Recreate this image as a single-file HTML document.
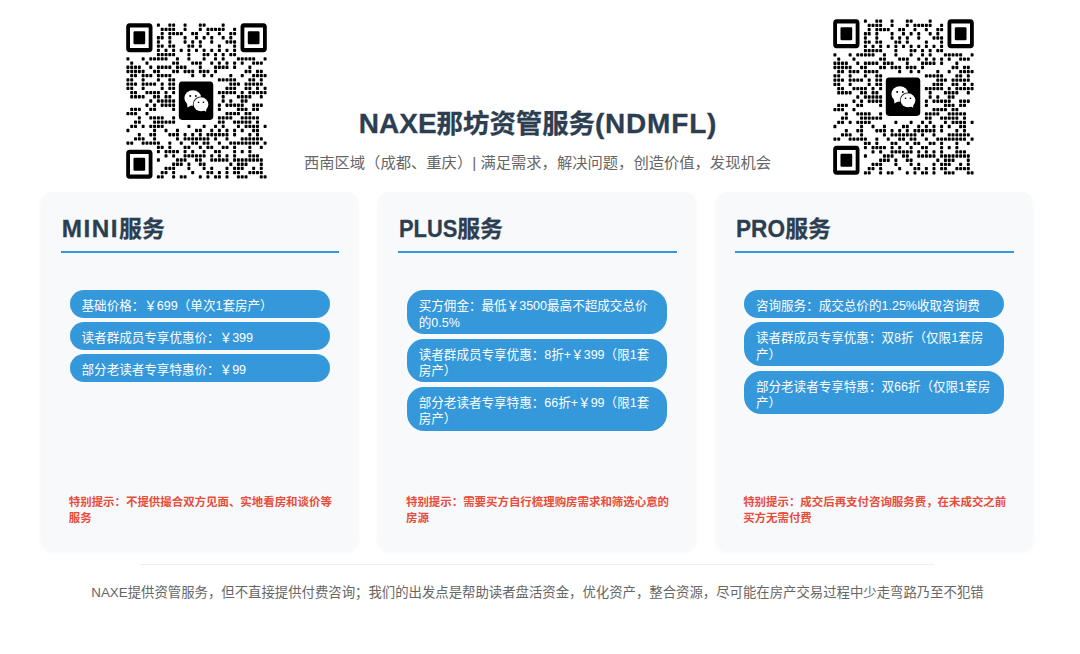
<!DOCTYPE html>
<html lang="zh-CN">
<head>
<meta charset="utf-8">
<title>NAXE那坊资管服务(NDMFL)</title>
<style>
*{box-sizing:border-box;margin:0;padding:0}
html,body{width:1080px;height:654px;background:#fff;overflow:hidden}
body{position:relative;font-family:"Liberation Sans","Noto Sans CJK SC",sans-serif;color:#2c3e50}
.qr{position:absolute;width:141px;height:156px;overflow:visible}
.qr.l{left:125.9px;top:22.9px}
.qr.r{left:832.9px;top:18.8px}
h1{position:absolute;left:0;width:1076px;top:103.5px;text-align:center;white-space:nowrap;font-size:26.4px;line-height:40px;font-weight:700;color:#2c3e50}
h1,.card h2{-webkit-text-stroke:.3px #2c3e50}
h1 .e{font-size:28px}
h1 .e2{font-size:28px;letter-spacing:.8px}
.sub{position:absolute;left:0;width:1075px;top:151.5px;text-align:center;white-space:nowrap;font-size:15.3px;line-height:22px;color:#666}
.card{position:absolute;top:192px;width:317.2px;height:357.5px;background:#f8f9fa;border-radius:11.5px;box-shadow:0 2px 5px rgba(0,0,0,.04)}
.c1{left:41.2px}.c2{left:378.4px}.c3{left:715.6px}
.card h2{position:absolute;left:20.6px;top:18.5px;white-space:nowrap;font-size:22.9px;line-height:36px;font-weight:700;color:#2c3e50}
.card h2 .e{font-size:24.3px;letter-spacing:1.5px}
.card h2 .sx{display:inline-block;transform-origin:0 50%;letter-spacing:0}
.card .ln{position:absolute;left:19.8px;width:278.5px;top:59px;height:2px;background:#3498db}
.pills{position:absolute;left:28.8px;width:259.6px;top:98.25px}
.pill{background:#3498db;color:#fff;white-space:nowrap;font-size:12.55px;line-height:16.3px;padding:8.1px 11.6px 3.1px 11.6px;border-radius:17px;margin-bottom:4.55px}
.warn{position:absolute;left:27.6px;top:303.2px;white-space:nowrap;font-size:11.45px;line-height:15.5px;font-weight:700;color:#e74c3c}
.hr{position:absolute;left:140px;width:794px;top:564px;height:1px;background:#eee}
.foot{position:absolute;left:0;width:1075px;top:583px;text-align:center;white-space:nowrap;font-size:13.38px;line-height:20px;color:#666}
</style>
</head>
<body>
<!--QR1--><svg class="qr l" viewBox="0 0 37 37" preserveAspectRatio="none" aria-label="微信二维码"><g><path d="M8.29 .29h.42v.42h-.42zM11.29 .29h.42v.42h-.42zM12.29 .29h.42v.42h-.42zM15.29 .29h.42v.42h-.42zM19.29 .29h.42v.42h-.42zM20.29 .29h.42v.42h-.42zM25.29 .29h.42v.42h-.42zM9.29 1.29h.42v.42h-.42zM10.29 1.29h.42v.42h-.42zM11.29 1.29h.42v.42h-.42zM12.29 1.29h.42v.42h-.42zM15.29 1.29h.42v.42h-.42zM19.29 1.29h.42v.42h-.42zM21.29 1.29h.42v.42h-.42zM22.29 1.29h.42v.42h-.42zM23.29 1.29h.42v.42h-.42zM24.29 1.29h.42v.42h-.42zM25.29 1.29h.42v.42h-.42zM28.29 1.29h.42v.42h-.42zM9.29 2.29h.42v.42h-.42zM11.29 2.29h.42v.42h-.42zM12.29 2.29h.42v.42h-.42zM13.29 2.29h.42v.42h-.42zM14.29 2.29h.42v.42h-.42zM17.29 2.29h.42v.42h-.42zM18.29 2.29h.42v.42h-.42zM21.29 2.29h.42v.42h-.42zM24.29 2.29h.42v.42h-.42zM27.29 2.29h.42v.42h-.42zM28.29 2.29h.42v.42h-.42zM8.29 3.29h.42v.42h-.42zM9.29 3.29h.42v.42h-.42zM11.29 3.29h.42v.42h-.42zM15.29 3.29h.42v.42h-.42zM18.29 3.29h.42v.42h-.42zM20.29 3.29h.42v.42h-.42zM22.29 3.29h.42v.42h-.42zM25.29 3.29h.42v.42h-.42zM27.29 3.29h.42v.42h-.42zM8.29 4.29h.42v.42h-.42zM11.29 4.29h.42v.42h-.42zM15.29 4.29h.42v.42h-.42zM17.29 4.29h.42v.42h-.42zM19.29 4.29h.42v.42h-.42zM22.29 4.29h.42v.42h-.42zM26.29 4.29h.42v.42h-.42zM27.29 4.29h.42v.42h-.42zM28.29 4.29h.42v.42h-.42zM8.29 5.29h.42v.42h-.42zM9.29 5.29h.42v.42h-.42zM11.29 5.29h.42v.42h-.42zM12.29 5.29h.42v.42h-.42zM16.29 5.29h.42v.42h-.42zM17.29 5.29h.42v.42h-.42zM19.29 5.29h.42v.42h-.42zM24.29 5.29h.42v.42h-.42zM28.29 5.29h.42v.42h-.42zM8.29 6.29h.42v.42h-.42zM10.29 6.29h.42v.42h-.42zM12.29 6.29h.42v.42h-.42zM14.29 6.29h.42v.42h-.42zM16.29 6.29h.42v.42h-.42zM18.29 6.29h.42v.42h-.42zM20.29 6.29h.42v.42h-.42zM22.29 6.29h.42v.42h-.42zM24.29 6.29h.42v.42h-.42zM26.29 6.29h.42v.42h-.42zM28.29 6.29h.42v.42h-.42zM8.29 7.29h.42v.42h-.42zM9.29 7.29h.42v.42h-.42zM10.29 7.29h.42v.42h-.42zM11.29 7.29h.42v.42h-.42zM12.29 7.29h.42v.42h-.42zM16.29 7.29h.42v.42h-.42zM20.29 7.29h.42v.42h-.42zM21.29 7.29h.42v.42h-.42zM23.29 7.29h.42v.42h-.42zM25.29 7.29h.42v.42h-.42zM27.29 7.29h.42v.42h-.42zM28.29 7.29h.42v.42h-.42zM.29 8.29h.42v.42h-.42zM4.29 8.29h.42v.42h-.42zM6.29 8.29h.42v.42h-.42zM7.29 8.29h.42v.42h-.42zM8.29 8.29h.42v.42h-.42zM9.29 8.29h.42v.42h-.42zM10.29 8.29h.42v.42h-.42zM13.29 8.29h.42v.42h-.42zM16.29 8.29h.42v.42h-.42zM20.29 8.29h.42v.42h-.42zM23.29 8.29h.42v.42h-.42zM25.29 8.29h.42v.42h-.42zM29.29 8.29h.42v.42h-.42zM30.29 8.29h.42v.42h-.42zM31.29 8.29h.42v.42h-.42zM32.29 8.29h.42v.42h-.42zM33.29 8.29h.42v.42h-.42zM36.29 8.29h.42v.42h-.42zM1.29 9.29h.42v.42h-.42zM5.29 9.29h.42v.42h-.42zM12.29 9.29h.42v.42h-.42zM13.29 9.29h.42v.42h-.42zM17.29 9.29h.42v.42h-.42zM18.29 9.29h.42v.42h-.42zM19.29 9.29h.42v.42h-.42zM22.29 9.29h.42v.42h-.42zM24.29 9.29h.42v.42h-.42zM26.29 9.29h.42v.42h-.42zM28.29 9.29h.42v.42h-.42zM30.29 9.29h.42v.42h-.42zM33.29 9.29h.42v.42h-.42zM34.29 9.29h.42v.42h-.42zM35.29 9.29h.42v.42h-.42zM.29 10.29h.42v.42h-.42zM1.29 10.29h.42v.42h-.42zM2.29 10.29h.42v.42h-.42zM3.29 10.29h.42v.42h-.42zM6.29 10.29h.42v.42h-.42zM8.29 10.29h.42v.42h-.42zM9.29 10.29h.42v.42h-.42zM10.29 10.29h.42v.42h-.42zM11.29 10.29h.42v.42h-.42zM13.29 10.29h.42v.42h-.42zM14.29 10.29h.42v.42h-.42zM15.29 10.29h.42v.42h-.42zM19.29 10.29h.42v.42h-.42zM23.29 10.29h.42v.42h-.42zM24.29 10.29h.42v.42h-.42zM25.29 10.29h.42v.42h-.42zM26.29 10.29h.42v.42h-.42zM28.29 10.29h.42v.42h-.42zM32.29 10.29h.42v.42h-.42zM.29 11.29h.42v.42h-.42zM1.29 11.29h.42v.42h-.42zM2.29 11.29h.42v.42h-.42zM3.29 11.29h.42v.42h-.42zM4.29 11.29h.42v.42h-.42zM7.29 11.29h.42v.42h-.42zM8.29 11.29h.42v.42h-.42zM12.29 11.29h.42v.42h-.42zM13.29 11.29h.42v.42h-.42zM15.29 11.29h.42v.42h-.42zM16.29 11.29h.42v.42h-.42zM17.29 11.29h.42v.42h-.42zM19.29 11.29h.42v.42h-.42zM20.29 11.29h.42v.42h-.42zM21.29 11.29h.42v.42h-.42zM23.29 11.29h.42v.42h-.42zM31.29 11.29h.42v.42h-.42zM32.29 11.29h.42v.42h-.42zM34.29 11.29h.42v.42h-.42zM35.29 11.29h.42v.42h-.42zM1.29 12.29h.42v.42h-.42zM2.29 12.29h.42v.42h-.42zM4.29 12.29h.42v.42h-.42zM5.29 12.29h.42v.42h-.42zM6.29 12.29h.42v.42h-.42zM8.29 12.29h.42v.42h-.42zM9.29 12.29h.42v.42h-.42zM10.29 12.29h.42v.42h-.42zM11.29 12.29h.42v.42h-.42zM17.29 12.29h.42v.42h-.42zM20.29 12.29h.42v.42h-.42zM22.29 12.29h.42v.42h-.42zM27.29 12.29h.42v.42h-.42zM30.29 12.29h.42v.42h-.42zM33.29 12.29h.42v.42h-.42zM34.29 12.29h.42v.42h-.42zM35.29 12.29h.42v.42h-.42zM36.29 12.29h.42v.42h-.42zM.29 13.29h.42v.42h-.42zM1.29 13.29h.42v.42h-.42zM4.29 13.29h.42v.42h-.42zM8.29 13.29h.42v.42h-.42zM11.29 13.29h.42v.42h-.42zM12.29 13.29h.42v.42h-.42zM24.29 13.29h.42v.42h-.42zM25.29 13.29h.42v.42h-.42zM26.29 13.29h.42v.42h-.42zM27.29 13.29h.42v.42h-.42zM28.29 13.29h.42v.42h-.42zM32.29 13.29h.42v.42h-.42zM33.29 13.29h.42v.42h-.42zM35.29 13.29h.42v.42h-.42zM.29 14.29h.42v.42h-.42zM1.29 14.29h.42v.42h-.42zM2.29 14.29h.42v.42h-.42zM4.29 14.29h.42v.42h-.42zM5.29 14.29h.42v.42h-.42zM6.29 14.29h.42v.42h-.42zM7.29 14.29h.42v.42h-.42zM9.29 14.29h.42v.42h-.42zM11.29 14.29h.42v.42h-.42zM12.29 14.29h.42v.42h-.42zM27.29 14.29h.42v.42h-.42zM28.29 14.29h.42v.42h-.42zM29.29 14.29h.42v.42h-.42zM31.29 14.29h.42v.42h-.42zM32.29 14.29h.42v.42h-.42zM33.29 14.29h.42v.42h-.42zM34.29 14.29h.42v.42h-.42zM35.29 14.29h.42v.42h-.42zM.29 15.29h.42v.42h-.42zM1.29 15.29h.42v.42h-.42zM4.29 15.29h.42v.42h-.42zM9.29 15.29h.42v.42h-.42zM11.29 15.29h.42v.42h-.42zM12.29 15.29h.42v.42h-.42zM26.29 15.29h.42v.42h-.42zM27.29 15.29h.42v.42h-.42zM28.29 15.29h.42v.42h-.42zM31.29 15.29h.42v.42h-.42zM32.29 15.29h.42v.42h-.42zM34.29 15.29h.42v.42h-.42zM36.29 15.29h.42v.42h-.42zM1.29 16.29h.42v.42h-.42zM2.29 16.29h.42v.42h-.42zM5.29 16.29h.42v.42h-.42zM6.29 16.29h.42v.42h-.42zM7.29 16.29h.42v.42h-.42zM8.29 16.29h.42v.42h-.42zM10.29 16.29h.42v.42h-.42zM12.29 16.29h.42v.42h-.42zM24.29 16.29h.42v.42h-.42zM25.29 16.29h.42v.42h-.42zM26.29 16.29h.42v.42h-.42zM27.29 16.29h.42v.42h-.42zM28.29 16.29h.42v.42h-.42zM30.29 16.29h.42v.42h-.42zM32.29 16.29h.42v.42h-.42zM33.29 16.29h.42v.42h-.42zM34.29 16.29h.42v.42h-.42zM35.29 16.29h.42v.42h-.42zM36.29 16.29h.42v.42h-.42zM1.29 17.29h.42v.42h-.42zM2.29 17.29h.42v.42h-.42zM3.29 17.29h.42v.42h-.42zM4.29 17.29h.42v.42h-.42zM7.29 17.29h.42v.42h-.42zM8.29 17.29h.42v.42h-.42zM10.29 17.29h.42v.42h-.42zM11.29 17.29h.42v.42h-.42zM25.29 17.29h.42v.42h-.42zM29.29 17.29h.42v.42h-.42zM30.29 17.29h.42v.42h-.42zM31.29 17.29h.42v.42h-.42zM32.29 17.29h.42v.42h-.42zM35.29 17.29h.42v.42h-.42zM6.29 18.29h.42v.42h-.42zM8.29 18.29h.42v.42h-.42zM9.29 18.29h.42v.42h-.42zM10.29 18.29h.42v.42h-.42zM11.29 18.29h.42v.42h-.42zM12.29 18.29h.42v.42h-.42zM25.29 18.29h.42v.42h-.42zM27.29 18.29h.42v.42h-.42zM30.29 18.29h.42v.42h-.42zM31.29 18.29h.42v.42h-.42zM5.29 19.29h.42v.42h-.42zM7.29 19.29h.42v.42h-.42zM9.29 19.29h.42v.42h-.42zM10.29 19.29h.42v.42h-.42zM11.29 19.29h.42v.42h-.42zM12.29 19.29h.42v.42h-.42zM24.29 19.29h.42v.42h-.42zM26.29 19.29h.42v.42h-.42zM27.29 19.29h.42v.42h-.42zM28.29 19.29h.42v.42h-.42zM29.29 19.29h.42v.42h-.42zM30.29 19.29h.42v.42h-.42zM33.29 19.29h.42v.42h-.42zM34.29 19.29h.42v.42h-.42zM35.29 19.29h.42v.42h-.42zM1.29 20.29h.42v.42h-.42zM2.29 20.29h.42v.42h-.42zM3.29 20.29h.42v.42h-.42zM6.29 20.29h.42v.42h-.42zM7.29 20.29h.42v.42h-.42zM12.29 20.29h.42v.42h-.42zM24.29 20.29h.42v.42h-.42zM29.29 20.29h.42v.42h-.42zM30.29 20.29h.42v.42h-.42zM31.29 20.29h.42v.42h-.42zM33.29 20.29h.42v.42h-.42zM34.29 20.29h.42v.42h-.42zM.29 21.29h.42v.42h-.42zM1.29 21.29h.42v.42h-.42zM2.29 21.29h.42v.42h-.42zM5.29 21.29h.42v.42h-.42zM26.29 21.29h.42v.42h-.42zM27.29 21.29h.42v.42h-.42zM28.29 21.29h.42v.42h-.42zM29.29 21.29h.42v.42h-.42zM31.29 21.29h.42v.42h-.42zM32.29 21.29h.42v.42h-.42zM3.29 22.29h.42v.42h-.42zM6.29 22.29h.42v.42h-.42zM7.29 22.29h.42v.42h-.42zM8.29 22.29h.42v.42h-.42zM9.29 22.29h.42v.42h-.42zM12.29 22.29h.42v.42h-.42zM24.29 22.29h.42v.42h-.42zM25.29 22.29h.42v.42h-.42zM26.29 22.29h.42v.42h-.42zM27.29 22.29h.42v.42h-.42zM30.29 22.29h.42v.42h-.42zM31.29 22.29h.42v.42h-.42zM32.29 22.29h.42v.42h-.42zM33.29 22.29h.42v.42h-.42zM34.29 22.29h.42v.42h-.42zM2.29 23.29h.42v.42h-.42zM3.29 23.29h.42v.42h-.42zM7.29 23.29h.42v.42h-.42zM8.29 23.29h.42v.42h-.42zM9.29 23.29h.42v.42h-.42zM10.29 23.29h.42v.42h-.42zM11.29 23.29h.42v.42h-.42zM12.29 23.29h.42v.42h-.42zM24.29 23.29h.42v.42h-.42zM25.29 23.29h.42v.42h-.42zM28.29 23.29h.42v.42h-.42zM29.29 23.29h.42v.42h-.42zM30.29 23.29h.42v.42h-.42zM31.29 23.29h.42v.42h-.42zM32.29 23.29h.42v.42h-.42zM34.29 23.29h.42v.42h-.42zM1.29 24.29h.42v.42h-.42zM2.29 24.29h.42v.42h-.42zM4.29 24.29h.42v.42h-.42zM6.29 24.29h.42v.42h-.42zM7.29 24.29h.42v.42h-.42zM8.29 24.29h.42v.42h-.42zM9.29 24.29h.42v.42h-.42zM16.29 24.29h.42v.42h-.42zM20.29 24.29h.42v.42h-.42zM23.29 24.29h.42v.42h-.42zM25.29 24.29h.42v.42h-.42zM29.29 24.29h.42v.42h-.42zM31.29 24.29h.42v.42h-.42zM32.29 24.29h.42v.42h-.42zM33.29 24.29h.42v.42h-.42zM34.29 24.29h.42v.42h-.42zM36.29 24.29h.42v.42h-.42zM.29 25.29h.42v.42h-.42zM7.29 25.29h.42v.42h-.42zM10.29 25.29h.42v.42h-.42zM13.29 25.29h.42v.42h-.42zM18.29 25.29h.42v.42h-.42zM19.29 25.29h.42v.42h-.42zM22.29 25.29h.42v.42h-.42zM24.29 25.29h.42v.42h-.42zM26.29 25.29h.42v.42h-.42zM28.29 25.29h.42v.42h-.42zM30.29 25.29h.42v.42h-.42zM33.29 25.29h.42v.42h-.42zM34.29 25.29h.42v.42h-.42zM3.29 26.29h.42v.42h-.42zM6.29 26.29h.42v.42h-.42zM7.29 26.29h.42v.42h-.42zM11.29 26.29h.42v.42h-.42zM12.29 26.29h.42v.42h-.42zM13.29 26.29h.42v.42h-.42zM15.29 26.29h.42v.42h-.42zM17.29 26.29h.42v.42h-.42zM19.29 26.29h.42v.42h-.42zM21.29 26.29h.42v.42h-.42zM22.29 26.29h.42v.42h-.42zM23.29 26.29h.42v.42h-.42zM24.29 26.29h.42v.42h-.42zM25.29 26.29h.42v.42h-.42zM26.29 26.29h.42v.42h-.42zM28.29 26.29h.42v.42h-.42zM32.29 26.29h.42v.42h-.42zM34.29 26.29h.42v.42h-.42zM2.29 27.29h.42v.42h-.42zM3.29 27.29h.42v.42h-.42zM4.29 27.29h.42v.42h-.42zM7.29 27.29h.42v.42h-.42zM13.29 27.29h.42v.42h-.42zM15.29 27.29h.42v.42h-.42zM16.29 27.29h.42v.42h-.42zM17.29 27.29h.42v.42h-.42zM18.29 27.29h.42v.42h-.42zM19.29 27.29h.42v.42h-.42zM20.29 27.29h.42v.42h-.42zM21.29 27.29h.42v.42h-.42zM23.29 27.29h.42v.42h-.42zM26.29 27.29h.42v.42h-.42zM30.29 27.29h.42v.42h-.42zM31.29 27.29h.42v.42h-.42zM32.29 27.29h.42v.42h-.42zM33.29 27.29h.42v.42h-.42zM34.29 27.29h.42v.42h-.42zM35.29 27.29h.42v.42h-.42zM.29 28.29h.42v.42h-.42zM1.29 28.29h.42v.42h-.42zM4.29 28.29h.42v.42h-.42zM5.29 28.29h.42v.42h-.42zM6.29 28.29h.42v.42h-.42zM7.29 28.29h.42v.42h-.42zM8.29 28.29h.42v.42h-.42zM11.29 28.29h.42v.42h-.42zM14.29 28.29h.42v.42h-.42zM17.29 28.29h.42v.42h-.42zM18.29 28.29h.42v.42h-.42zM20.29 28.29h.42v.42h-.42zM21.29 28.29h.42v.42h-.42zM24.29 28.29h.42v.42h-.42zM27.29 28.29h.42v.42h-.42zM28.29 28.29h.42v.42h-.42zM29.29 28.29h.42v.42h-.42zM30.29 28.29h.42v.42h-.42zM31.29 28.29h.42v.42h-.42zM32.29 28.29h.42v.42h-.42zM33.29 28.29h.42v.42h-.42zM34.29 28.29h.42v.42h-.42zM36.29 28.29h.42v.42h-.42zM8.29 29.29h.42v.42h-.42zM9.29 29.29h.42v.42h-.42zM11.29 29.29h.42v.42h-.42zM15.29 29.29h.42v.42h-.42zM16.29 29.29h.42v.42h-.42zM19.29 29.29h.42v.42h-.42zM21.29 29.29h.42v.42h-.42zM22.29 29.29h.42v.42h-.42zM25.29 29.29h.42v.42h-.42zM26.29 29.29h.42v.42h-.42zM28.29 29.29h.42v.42h-.42zM32.29 29.29h.42v.42h-.42zM35.29 29.29h.42v.42h-.42zM8.29 30.29h.42v.42h-.42zM10.29 30.29h.42v.42h-.42zM11.29 30.29h.42v.42h-.42zM12.29 30.29h.42v.42h-.42zM13.29 30.29h.42v.42h-.42zM15.29 30.29h.42v.42h-.42zM17.29 30.29h.42v.42h-.42zM20.29 30.29h.42v.42h-.42zM23.29 30.29h.42v.42h-.42zM24.29 30.29h.42v.42h-.42zM28.29 30.29h.42v.42h-.42zM30.29 30.29h.42v.42h-.42zM32.29 30.29h.42v.42h-.42zM10.29 31.29h.42v.42h-.42zM12.29 31.29h.42v.42h-.42zM15.29 31.29h.42v.42h-.42zM16.29 31.29h.42v.42h-.42zM17.29 31.29h.42v.42h-.42zM18.29 31.29h.42v.42h-.42zM19.29 31.29h.42v.42h-.42zM20.29 31.29h.42v.42h-.42zM22.29 31.29h.42v.42h-.42zM24.29 31.29h.42v.42h-.42zM26.29 31.29h.42v.42h-.42zM28.29 31.29h.42v.42h-.42zM32.29 31.29h.42v.42h-.42zM33.29 31.29h.42v.42h-.42zM34.29 31.29h.42v.42h-.42zM8.29 32.29h.42v.42h-.42zM13.29 32.29h.42v.42h-.42zM14.29 32.29h.42v.42h-.42zM15.29 32.29h.42v.42h-.42zM18.29 32.29h.42v.42h-.42zM19.29 32.29h.42v.42h-.42zM22.29 32.29h.42v.42h-.42zM23.29 32.29h.42v.42h-.42zM24.29 32.29h.42v.42h-.42zM25.29 32.29h.42v.42h-.42zM26.29 32.29h.42v.42h-.42zM28.29 32.29h.42v.42h-.42zM29.29 32.29h.42v.42h-.42zM30.29 32.29h.42v.42h-.42zM31.29 32.29h.42v.42h-.42zM32.29 32.29h.42v.42h-.42zM33.29 32.29h.42v.42h-.42zM34.29 32.29h.42v.42h-.42zM35.29 32.29h.42v.42h-.42zM12.29 33.29h.42v.42h-.42zM13.29 33.29h.42v.42h-.42zM14.29 33.29h.42v.42h-.42zM16.29 33.29h.42v.42h-.42zM19.29 33.29h.42v.42h-.42zM20.29 33.29h.42v.42h-.42zM27.29 33.29h.42v.42h-.42zM29.29 33.29h.42v.42h-.42zM30.29 33.29h.42v.42h-.42zM31.29 33.29h.42v.42h-.42zM35.29 33.29h.42v.42h-.42zM10.29 34.29h.42v.42h-.42zM11.29 34.29h.42v.42h-.42zM12.29 34.29h.42v.42h-.42zM16.29 34.29h.42v.42h-.42zM20.29 34.29h.42v.42h-.42zM22.29 34.29h.42v.42h-.42zM26.29 34.29h.42v.42h-.42zM28.29 34.29h.42v.42h-.42zM29.29 34.29h.42v.42h-.42zM30.29 34.29h.42v.42h-.42zM33.29 34.29h.42v.42h-.42zM35.29 34.29h.42v.42h-.42zM9.29 35.29h.42v.42h-.42zM10.29 35.29h.42v.42h-.42zM12.29 35.29h.42v.42h-.42zM17.29 35.29h.42v.42h-.42zM21.29 35.29h.42v.42h-.42zM22.29 35.29h.42v.42h-.42zM24.29 35.29h.42v.42h-.42zM26.29 35.29h.42v.42h-.42zM28.29 35.29h.42v.42h-.42zM29.29 35.29h.42v.42h-.42zM32.29 35.29h.42v.42h-.42zM33.29 35.29h.42v.42h-.42zM34.29 35.29h.42v.42h-.42zM35.29 35.29h.42v.42h-.42zM8.29 36.29h.42v.42h-.42zM9.29 36.29h.42v.42h-.42zM12.29 36.29h.42v.42h-.42zM14.29 36.29h.42v.42h-.42zM15.29 36.29h.42v.42h-.42zM19.29 36.29h.42v.42h-.42zM21.29 36.29h.42v.42h-.42zM23.29 36.29h.42v.42h-.42zM24.29 36.29h.42v.42h-.42zM26.29 36.29h.42v.42h-.42zM29.29 36.29h.42v.42h-.42zM30.29 36.29h.42v.42h-.42zM31.29 36.29h.42v.42h-.42zM35.29 36.29h.42v.42h-.42zM36.29 36.29h.42v.42h-.42z" fill="#000" stroke="#000" stroke-width=".37" stroke-linejoin="round"/><rect x=".55" y=".55" width="5.9" height="5.9" rx=".4" fill="none" stroke="#000" stroke-width="1"/><rect x="1.96" y="1.96" width="3.08" height="3.08" rx=".3" fill="#000"/><rect x="30.55" y=".55" width="5.9" height="5.9" rx=".4" fill="none" stroke="#000" stroke-width="1"/><rect x="31.96" y="1.96" width="3.08" height="3.08" rx=".3" fill="#000"/><rect x=".55" y="30.55" width="5.9" height="5.9" rx=".4" fill="none" stroke="#000" stroke-width="1"/><rect x="1.96" y="31.96" width="3.08" height="3.08" rx=".3" fill="#000"/><rect x="13.86" y="13.9" width="9.04" height="9.08" rx=".85" fill="#000"/><ellipse cx="17.54" cy="17.8" rx="2.22" ry="1.83" fill="#fff"/><path d="M15.95 18.8L16.15 20.02 17.4 19.4z" fill="#fff"/><ellipse cx="19.68" cy="19.29" rx="2.12" ry="1.84" fill="#000"/><ellipse cx="19.68" cy="19.29" rx="1.93" ry="1.66" fill="#fff"/><path d="M20.1 20.6L21.02 21.05 21.1 20z" fill="#fff"/><ellipse cx="16.85" cy="17.32" rx=".26" ry=".24" fill="#000"/><ellipse cx="18.33" cy="17.32" rx=".26" ry=".24" fill="#000"/><ellipse cx="19.03" cy="18.8" rx=".22" ry=".2" fill="#000"/><ellipse cx="20.32" cy="18.8" rx=".22" ry=".2" fill="#000"/></g></svg><!--/QR1-->
<!--QR2--><svg class="qr r" viewBox="0 0 37 37" preserveAspectRatio="none" aria-label="微信二维码"><g><path d="M8.29 .29h.42v.42h-.42zM11.29 .29h.42v.42h-.42zM12.29 .29h.42v.42h-.42zM15.29 .29h.42v.42h-.42zM19.29 .29h.42v.42h-.42zM20.29 .29h.42v.42h-.42zM25.29 .29h.42v.42h-.42zM9.29 1.29h.42v.42h-.42zM10.29 1.29h.42v.42h-.42zM11.29 1.29h.42v.42h-.42zM12.29 1.29h.42v.42h-.42zM15.29 1.29h.42v.42h-.42zM19.29 1.29h.42v.42h-.42zM21.29 1.29h.42v.42h-.42zM22.29 1.29h.42v.42h-.42zM23.29 1.29h.42v.42h-.42zM24.29 1.29h.42v.42h-.42zM25.29 1.29h.42v.42h-.42zM28.29 1.29h.42v.42h-.42zM9.29 2.29h.42v.42h-.42zM11.29 2.29h.42v.42h-.42zM12.29 2.29h.42v.42h-.42zM13.29 2.29h.42v.42h-.42zM14.29 2.29h.42v.42h-.42zM17.29 2.29h.42v.42h-.42zM18.29 2.29h.42v.42h-.42zM21.29 2.29h.42v.42h-.42zM24.29 2.29h.42v.42h-.42zM27.29 2.29h.42v.42h-.42zM28.29 2.29h.42v.42h-.42zM8.29 3.29h.42v.42h-.42zM9.29 3.29h.42v.42h-.42zM11.29 3.29h.42v.42h-.42zM15.29 3.29h.42v.42h-.42zM18.29 3.29h.42v.42h-.42zM20.29 3.29h.42v.42h-.42zM22.29 3.29h.42v.42h-.42zM25.29 3.29h.42v.42h-.42zM27.29 3.29h.42v.42h-.42zM8.29 4.29h.42v.42h-.42zM11.29 4.29h.42v.42h-.42zM15.29 4.29h.42v.42h-.42zM17.29 4.29h.42v.42h-.42zM19.29 4.29h.42v.42h-.42zM22.29 4.29h.42v.42h-.42zM26.29 4.29h.42v.42h-.42zM27.29 4.29h.42v.42h-.42zM28.29 4.29h.42v.42h-.42zM8.29 5.29h.42v.42h-.42zM9.29 5.29h.42v.42h-.42zM11.29 5.29h.42v.42h-.42zM12.29 5.29h.42v.42h-.42zM16.29 5.29h.42v.42h-.42zM17.29 5.29h.42v.42h-.42zM19.29 5.29h.42v.42h-.42zM24.29 5.29h.42v.42h-.42zM28.29 5.29h.42v.42h-.42zM8.29 6.29h.42v.42h-.42zM10.29 6.29h.42v.42h-.42zM12.29 6.29h.42v.42h-.42zM14.29 6.29h.42v.42h-.42zM16.29 6.29h.42v.42h-.42zM18.29 6.29h.42v.42h-.42zM20.29 6.29h.42v.42h-.42zM22.29 6.29h.42v.42h-.42zM24.29 6.29h.42v.42h-.42zM26.29 6.29h.42v.42h-.42zM28.29 6.29h.42v.42h-.42zM8.29 7.29h.42v.42h-.42zM9.29 7.29h.42v.42h-.42zM10.29 7.29h.42v.42h-.42zM11.29 7.29h.42v.42h-.42zM12.29 7.29h.42v.42h-.42zM16.29 7.29h.42v.42h-.42zM20.29 7.29h.42v.42h-.42zM21.29 7.29h.42v.42h-.42zM23.29 7.29h.42v.42h-.42zM25.29 7.29h.42v.42h-.42zM27.29 7.29h.42v.42h-.42zM28.29 7.29h.42v.42h-.42zM.29 8.29h.42v.42h-.42zM4.29 8.29h.42v.42h-.42zM6.29 8.29h.42v.42h-.42zM7.29 8.29h.42v.42h-.42zM8.29 8.29h.42v.42h-.42zM9.29 8.29h.42v.42h-.42zM10.29 8.29h.42v.42h-.42zM13.29 8.29h.42v.42h-.42zM16.29 8.29h.42v.42h-.42zM20.29 8.29h.42v.42h-.42zM23.29 8.29h.42v.42h-.42zM25.29 8.29h.42v.42h-.42zM29.29 8.29h.42v.42h-.42zM30.29 8.29h.42v.42h-.42zM31.29 8.29h.42v.42h-.42zM32.29 8.29h.42v.42h-.42zM33.29 8.29h.42v.42h-.42zM36.29 8.29h.42v.42h-.42zM1.29 9.29h.42v.42h-.42zM5.29 9.29h.42v.42h-.42zM12.29 9.29h.42v.42h-.42zM13.29 9.29h.42v.42h-.42zM17.29 9.29h.42v.42h-.42zM18.29 9.29h.42v.42h-.42zM19.29 9.29h.42v.42h-.42zM22.29 9.29h.42v.42h-.42zM24.29 9.29h.42v.42h-.42zM26.29 9.29h.42v.42h-.42zM28.29 9.29h.42v.42h-.42zM30.29 9.29h.42v.42h-.42zM33.29 9.29h.42v.42h-.42zM34.29 9.29h.42v.42h-.42zM35.29 9.29h.42v.42h-.42zM.29 10.29h.42v.42h-.42zM1.29 10.29h.42v.42h-.42zM2.29 10.29h.42v.42h-.42zM3.29 10.29h.42v.42h-.42zM6.29 10.29h.42v.42h-.42zM8.29 10.29h.42v.42h-.42zM9.29 10.29h.42v.42h-.42zM10.29 10.29h.42v.42h-.42zM11.29 10.29h.42v.42h-.42zM13.29 10.29h.42v.42h-.42zM14.29 10.29h.42v.42h-.42zM15.29 10.29h.42v.42h-.42zM19.29 10.29h.42v.42h-.42zM23.29 10.29h.42v.42h-.42zM24.29 10.29h.42v.42h-.42zM25.29 10.29h.42v.42h-.42zM26.29 10.29h.42v.42h-.42zM28.29 10.29h.42v.42h-.42zM32.29 10.29h.42v.42h-.42zM.29 11.29h.42v.42h-.42zM1.29 11.29h.42v.42h-.42zM2.29 11.29h.42v.42h-.42zM3.29 11.29h.42v.42h-.42zM4.29 11.29h.42v.42h-.42zM7.29 11.29h.42v.42h-.42zM8.29 11.29h.42v.42h-.42zM12.29 11.29h.42v.42h-.42zM13.29 11.29h.42v.42h-.42zM15.29 11.29h.42v.42h-.42zM16.29 11.29h.42v.42h-.42zM17.29 11.29h.42v.42h-.42zM19.29 11.29h.42v.42h-.42zM20.29 11.29h.42v.42h-.42zM21.29 11.29h.42v.42h-.42zM23.29 11.29h.42v.42h-.42zM31.29 11.29h.42v.42h-.42zM32.29 11.29h.42v.42h-.42zM34.29 11.29h.42v.42h-.42zM35.29 11.29h.42v.42h-.42zM1.29 12.29h.42v.42h-.42zM2.29 12.29h.42v.42h-.42zM4.29 12.29h.42v.42h-.42zM5.29 12.29h.42v.42h-.42zM6.29 12.29h.42v.42h-.42zM8.29 12.29h.42v.42h-.42zM9.29 12.29h.42v.42h-.42zM10.29 12.29h.42v.42h-.42zM11.29 12.29h.42v.42h-.42zM17.29 12.29h.42v.42h-.42zM20.29 12.29h.42v.42h-.42zM22.29 12.29h.42v.42h-.42zM27.29 12.29h.42v.42h-.42zM30.29 12.29h.42v.42h-.42zM33.29 12.29h.42v.42h-.42zM34.29 12.29h.42v.42h-.42zM35.29 12.29h.42v.42h-.42zM36.29 12.29h.42v.42h-.42zM.29 13.29h.42v.42h-.42zM1.29 13.29h.42v.42h-.42zM4.29 13.29h.42v.42h-.42zM8.29 13.29h.42v.42h-.42zM11.29 13.29h.42v.42h-.42zM12.29 13.29h.42v.42h-.42zM24.29 13.29h.42v.42h-.42zM25.29 13.29h.42v.42h-.42zM26.29 13.29h.42v.42h-.42zM27.29 13.29h.42v.42h-.42zM28.29 13.29h.42v.42h-.42zM32.29 13.29h.42v.42h-.42zM33.29 13.29h.42v.42h-.42zM35.29 13.29h.42v.42h-.42zM.29 14.29h.42v.42h-.42zM1.29 14.29h.42v.42h-.42zM2.29 14.29h.42v.42h-.42zM4.29 14.29h.42v.42h-.42zM5.29 14.29h.42v.42h-.42zM6.29 14.29h.42v.42h-.42zM7.29 14.29h.42v.42h-.42zM9.29 14.29h.42v.42h-.42zM11.29 14.29h.42v.42h-.42zM12.29 14.29h.42v.42h-.42zM27.29 14.29h.42v.42h-.42zM28.29 14.29h.42v.42h-.42zM29.29 14.29h.42v.42h-.42zM31.29 14.29h.42v.42h-.42zM32.29 14.29h.42v.42h-.42zM33.29 14.29h.42v.42h-.42zM34.29 14.29h.42v.42h-.42zM35.29 14.29h.42v.42h-.42zM.29 15.29h.42v.42h-.42zM1.29 15.29h.42v.42h-.42zM4.29 15.29h.42v.42h-.42zM9.29 15.29h.42v.42h-.42zM11.29 15.29h.42v.42h-.42zM12.29 15.29h.42v.42h-.42zM26.29 15.29h.42v.42h-.42zM27.29 15.29h.42v.42h-.42zM28.29 15.29h.42v.42h-.42zM31.29 15.29h.42v.42h-.42zM32.29 15.29h.42v.42h-.42zM34.29 15.29h.42v.42h-.42zM36.29 15.29h.42v.42h-.42zM1.29 16.29h.42v.42h-.42zM2.29 16.29h.42v.42h-.42zM5.29 16.29h.42v.42h-.42zM6.29 16.29h.42v.42h-.42zM7.29 16.29h.42v.42h-.42zM8.29 16.29h.42v.42h-.42zM10.29 16.29h.42v.42h-.42zM12.29 16.29h.42v.42h-.42zM24.29 16.29h.42v.42h-.42zM25.29 16.29h.42v.42h-.42zM26.29 16.29h.42v.42h-.42zM27.29 16.29h.42v.42h-.42zM28.29 16.29h.42v.42h-.42zM30.29 16.29h.42v.42h-.42zM32.29 16.29h.42v.42h-.42zM33.29 16.29h.42v.42h-.42zM34.29 16.29h.42v.42h-.42zM35.29 16.29h.42v.42h-.42zM36.29 16.29h.42v.42h-.42zM1.29 17.29h.42v.42h-.42zM2.29 17.29h.42v.42h-.42zM3.29 17.29h.42v.42h-.42zM4.29 17.29h.42v.42h-.42zM7.29 17.29h.42v.42h-.42zM8.29 17.29h.42v.42h-.42zM10.29 17.29h.42v.42h-.42zM11.29 17.29h.42v.42h-.42zM25.29 17.29h.42v.42h-.42zM29.29 17.29h.42v.42h-.42zM30.29 17.29h.42v.42h-.42zM31.29 17.29h.42v.42h-.42zM32.29 17.29h.42v.42h-.42zM35.29 17.29h.42v.42h-.42zM6.29 18.29h.42v.42h-.42zM8.29 18.29h.42v.42h-.42zM9.29 18.29h.42v.42h-.42zM10.29 18.29h.42v.42h-.42zM11.29 18.29h.42v.42h-.42zM12.29 18.29h.42v.42h-.42zM25.29 18.29h.42v.42h-.42zM27.29 18.29h.42v.42h-.42zM30.29 18.29h.42v.42h-.42zM31.29 18.29h.42v.42h-.42zM5.29 19.29h.42v.42h-.42zM7.29 19.29h.42v.42h-.42zM9.29 19.29h.42v.42h-.42zM10.29 19.29h.42v.42h-.42zM11.29 19.29h.42v.42h-.42zM12.29 19.29h.42v.42h-.42zM24.29 19.29h.42v.42h-.42zM26.29 19.29h.42v.42h-.42zM27.29 19.29h.42v.42h-.42zM28.29 19.29h.42v.42h-.42zM29.29 19.29h.42v.42h-.42zM30.29 19.29h.42v.42h-.42zM33.29 19.29h.42v.42h-.42zM34.29 19.29h.42v.42h-.42zM35.29 19.29h.42v.42h-.42zM1.29 20.29h.42v.42h-.42zM2.29 20.29h.42v.42h-.42zM3.29 20.29h.42v.42h-.42zM6.29 20.29h.42v.42h-.42zM7.29 20.29h.42v.42h-.42zM12.29 20.29h.42v.42h-.42zM24.29 20.29h.42v.42h-.42zM29.29 20.29h.42v.42h-.42zM30.29 20.29h.42v.42h-.42zM31.29 20.29h.42v.42h-.42zM33.29 20.29h.42v.42h-.42zM34.29 20.29h.42v.42h-.42zM.29 21.29h.42v.42h-.42zM1.29 21.29h.42v.42h-.42zM2.29 21.29h.42v.42h-.42zM5.29 21.29h.42v.42h-.42zM26.29 21.29h.42v.42h-.42zM27.29 21.29h.42v.42h-.42zM28.29 21.29h.42v.42h-.42zM29.29 21.29h.42v.42h-.42zM31.29 21.29h.42v.42h-.42zM32.29 21.29h.42v.42h-.42zM3.29 22.29h.42v.42h-.42zM6.29 22.29h.42v.42h-.42zM7.29 22.29h.42v.42h-.42zM8.29 22.29h.42v.42h-.42zM9.29 22.29h.42v.42h-.42zM12.29 22.29h.42v.42h-.42zM24.29 22.29h.42v.42h-.42zM25.29 22.29h.42v.42h-.42zM26.29 22.29h.42v.42h-.42zM27.29 22.29h.42v.42h-.42zM30.29 22.29h.42v.42h-.42zM31.29 22.29h.42v.42h-.42zM32.29 22.29h.42v.42h-.42zM33.29 22.29h.42v.42h-.42zM34.29 22.29h.42v.42h-.42zM2.29 23.29h.42v.42h-.42zM3.29 23.29h.42v.42h-.42zM7.29 23.29h.42v.42h-.42zM8.29 23.29h.42v.42h-.42zM9.29 23.29h.42v.42h-.42zM10.29 23.29h.42v.42h-.42zM11.29 23.29h.42v.42h-.42zM12.29 23.29h.42v.42h-.42zM24.29 23.29h.42v.42h-.42zM25.29 23.29h.42v.42h-.42zM28.29 23.29h.42v.42h-.42zM29.29 23.29h.42v.42h-.42zM30.29 23.29h.42v.42h-.42zM31.29 23.29h.42v.42h-.42zM32.29 23.29h.42v.42h-.42zM34.29 23.29h.42v.42h-.42zM1.29 24.29h.42v.42h-.42zM2.29 24.29h.42v.42h-.42zM4.29 24.29h.42v.42h-.42zM6.29 24.29h.42v.42h-.42zM7.29 24.29h.42v.42h-.42zM8.29 24.29h.42v.42h-.42zM9.29 24.29h.42v.42h-.42zM16.29 24.29h.42v.42h-.42zM20.29 24.29h.42v.42h-.42zM23.29 24.29h.42v.42h-.42zM25.29 24.29h.42v.42h-.42zM29.29 24.29h.42v.42h-.42zM31.29 24.29h.42v.42h-.42zM32.29 24.29h.42v.42h-.42zM33.29 24.29h.42v.42h-.42zM34.29 24.29h.42v.42h-.42zM36.29 24.29h.42v.42h-.42zM.29 25.29h.42v.42h-.42zM7.29 25.29h.42v.42h-.42zM10.29 25.29h.42v.42h-.42zM13.29 25.29h.42v.42h-.42zM18.29 25.29h.42v.42h-.42zM19.29 25.29h.42v.42h-.42zM22.29 25.29h.42v.42h-.42zM24.29 25.29h.42v.42h-.42zM26.29 25.29h.42v.42h-.42zM28.29 25.29h.42v.42h-.42zM30.29 25.29h.42v.42h-.42zM33.29 25.29h.42v.42h-.42zM34.29 25.29h.42v.42h-.42zM3.29 26.29h.42v.42h-.42zM6.29 26.29h.42v.42h-.42zM7.29 26.29h.42v.42h-.42zM11.29 26.29h.42v.42h-.42zM12.29 26.29h.42v.42h-.42zM13.29 26.29h.42v.42h-.42zM15.29 26.29h.42v.42h-.42zM17.29 26.29h.42v.42h-.42zM19.29 26.29h.42v.42h-.42zM21.29 26.29h.42v.42h-.42zM22.29 26.29h.42v.42h-.42zM23.29 26.29h.42v.42h-.42zM24.29 26.29h.42v.42h-.42zM25.29 26.29h.42v.42h-.42zM26.29 26.29h.42v.42h-.42zM28.29 26.29h.42v.42h-.42zM32.29 26.29h.42v.42h-.42zM34.29 26.29h.42v.42h-.42zM2.29 27.29h.42v.42h-.42zM3.29 27.29h.42v.42h-.42zM4.29 27.29h.42v.42h-.42zM7.29 27.29h.42v.42h-.42zM13.29 27.29h.42v.42h-.42zM15.29 27.29h.42v.42h-.42zM16.29 27.29h.42v.42h-.42zM17.29 27.29h.42v.42h-.42zM18.29 27.29h.42v.42h-.42zM19.29 27.29h.42v.42h-.42zM20.29 27.29h.42v.42h-.42zM21.29 27.29h.42v.42h-.42zM23.29 27.29h.42v.42h-.42zM26.29 27.29h.42v.42h-.42zM30.29 27.29h.42v.42h-.42zM31.29 27.29h.42v.42h-.42zM32.29 27.29h.42v.42h-.42zM33.29 27.29h.42v.42h-.42zM34.29 27.29h.42v.42h-.42zM35.29 27.29h.42v.42h-.42zM.29 28.29h.42v.42h-.42zM1.29 28.29h.42v.42h-.42zM4.29 28.29h.42v.42h-.42zM5.29 28.29h.42v.42h-.42zM6.29 28.29h.42v.42h-.42zM7.29 28.29h.42v.42h-.42zM8.29 28.29h.42v.42h-.42zM11.29 28.29h.42v.42h-.42zM14.29 28.29h.42v.42h-.42zM17.29 28.29h.42v.42h-.42zM18.29 28.29h.42v.42h-.42zM20.29 28.29h.42v.42h-.42zM21.29 28.29h.42v.42h-.42zM24.29 28.29h.42v.42h-.42zM27.29 28.29h.42v.42h-.42zM28.29 28.29h.42v.42h-.42zM29.29 28.29h.42v.42h-.42zM30.29 28.29h.42v.42h-.42zM31.29 28.29h.42v.42h-.42zM32.29 28.29h.42v.42h-.42zM33.29 28.29h.42v.42h-.42zM34.29 28.29h.42v.42h-.42zM36.29 28.29h.42v.42h-.42zM8.29 29.29h.42v.42h-.42zM9.29 29.29h.42v.42h-.42zM11.29 29.29h.42v.42h-.42zM15.29 29.29h.42v.42h-.42zM16.29 29.29h.42v.42h-.42zM19.29 29.29h.42v.42h-.42zM21.29 29.29h.42v.42h-.42zM22.29 29.29h.42v.42h-.42zM25.29 29.29h.42v.42h-.42zM26.29 29.29h.42v.42h-.42zM28.29 29.29h.42v.42h-.42zM32.29 29.29h.42v.42h-.42zM35.29 29.29h.42v.42h-.42zM8.29 30.29h.42v.42h-.42zM10.29 30.29h.42v.42h-.42zM11.29 30.29h.42v.42h-.42zM12.29 30.29h.42v.42h-.42zM13.29 30.29h.42v.42h-.42zM15.29 30.29h.42v.42h-.42zM17.29 30.29h.42v.42h-.42zM20.29 30.29h.42v.42h-.42zM23.29 30.29h.42v.42h-.42zM24.29 30.29h.42v.42h-.42zM28.29 30.29h.42v.42h-.42zM30.29 30.29h.42v.42h-.42zM32.29 30.29h.42v.42h-.42zM10.29 31.29h.42v.42h-.42zM12.29 31.29h.42v.42h-.42zM15.29 31.29h.42v.42h-.42zM16.29 31.29h.42v.42h-.42zM17.29 31.29h.42v.42h-.42zM18.29 31.29h.42v.42h-.42zM19.29 31.29h.42v.42h-.42zM20.29 31.29h.42v.42h-.42zM22.29 31.29h.42v.42h-.42zM24.29 31.29h.42v.42h-.42zM26.29 31.29h.42v.42h-.42zM28.29 31.29h.42v.42h-.42zM32.29 31.29h.42v.42h-.42zM33.29 31.29h.42v.42h-.42zM34.29 31.29h.42v.42h-.42zM8.29 32.29h.42v.42h-.42zM13.29 32.29h.42v.42h-.42zM14.29 32.29h.42v.42h-.42zM15.29 32.29h.42v.42h-.42zM18.29 32.29h.42v.42h-.42zM19.29 32.29h.42v.42h-.42zM22.29 32.29h.42v.42h-.42zM23.29 32.29h.42v.42h-.42zM24.29 32.29h.42v.42h-.42zM25.29 32.29h.42v.42h-.42zM26.29 32.29h.42v.42h-.42zM28.29 32.29h.42v.42h-.42zM29.29 32.29h.42v.42h-.42zM30.29 32.29h.42v.42h-.42zM31.29 32.29h.42v.42h-.42zM32.29 32.29h.42v.42h-.42zM33.29 32.29h.42v.42h-.42zM34.29 32.29h.42v.42h-.42zM35.29 32.29h.42v.42h-.42zM12.29 33.29h.42v.42h-.42zM13.29 33.29h.42v.42h-.42zM14.29 33.29h.42v.42h-.42zM16.29 33.29h.42v.42h-.42zM19.29 33.29h.42v.42h-.42zM20.29 33.29h.42v.42h-.42zM27.29 33.29h.42v.42h-.42zM29.29 33.29h.42v.42h-.42zM30.29 33.29h.42v.42h-.42zM31.29 33.29h.42v.42h-.42zM35.29 33.29h.42v.42h-.42zM10.29 34.29h.42v.42h-.42zM11.29 34.29h.42v.42h-.42zM12.29 34.29h.42v.42h-.42zM16.29 34.29h.42v.42h-.42zM20.29 34.29h.42v.42h-.42zM22.29 34.29h.42v.42h-.42zM26.29 34.29h.42v.42h-.42zM28.29 34.29h.42v.42h-.42zM29.29 34.29h.42v.42h-.42zM30.29 34.29h.42v.42h-.42zM33.29 34.29h.42v.42h-.42zM35.29 34.29h.42v.42h-.42zM9.29 35.29h.42v.42h-.42zM10.29 35.29h.42v.42h-.42zM12.29 35.29h.42v.42h-.42zM17.29 35.29h.42v.42h-.42zM21.29 35.29h.42v.42h-.42zM22.29 35.29h.42v.42h-.42zM24.29 35.29h.42v.42h-.42zM26.29 35.29h.42v.42h-.42zM28.29 35.29h.42v.42h-.42zM29.29 35.29h.42v.42h-.42zM32.29 35.29h.42v.42h-.42zM33.29 35.29h.42v.42h-.42zM34.29 35.29h.42v.42h-.42zM35.29 35.29h.42v.42h-.42zM8.29 36.29h.42v.42h-.42zM9.29 36.29h.42v.42h-.42zM12.29 36.29h.42v.42h-.42zM14.29 36.29h.42v.42h-.42zM15.29 36.29h.42v.42h-.42zM19.29 36.29h.42v.42h-.42zM21.29 36.29h.42v.42h-.42zM23.29 36.29h.42v.42h-.42zM24.29 36.29h.42v.42h-.42zM26.29 36.29h.42v.42h-.42zM29.29 36.29h.42v.42h-.42zM30.29 36.29h.42v.42h-.42zM31.29 36.29h.42v.42h-.42zM35.29 36.29h.42v.42h-.42zM36.29 36.29h.42v.42h-.42z" fill="#000" stroke="#000" stroke-width=".37" stroke-linejoin="round"/><rect x=".55" y=".55" width="5.9" height="5.9" rx=".4" fill="none" stroke="#000" stroke-width="1"/><rect x="1.96" y="1.96" width="3.08" height="3.08" rx=".3" fill="#000"/><rect x="30.55" y=".55" width="5.9" height="5.9" rx=".4" fill="none" stroke="#000" stroke-width="1"/><rect x="31.96" y="1.96" width="3.08" height="3.08" rx=".3" fill="#000"/><rect x=".55" y="30.55" width="5.9" height="5.9" rx=".4" fill="none" stroke="#000" stroke-width="1"/><rect x="1.96" y="31.96" width="3.08" height="3.08" rx=".3" fill="#000"/><rect x="13.86" y="13.9" width="9.04" height="9.08" rx=".85" fill="#000"/><ellipse cx="17.54" cy="17.8" rx="2.22" ry="1.83" fill="#fff"/><path d="M15.95 18.8L16.15 20.02 17.4 19.4z" fill="#fff"/><ellipse cx="19.68" cy="19.29" rx="2.12" ry="1.84" fill="#000"/><ellipse cx="19.68" cy="19.29" rx="1.93" ry="1.66" fill="#fff"/><path d="M20.1 20.6L21.02 21.05 21.1 20z" fill="#fff"/><ellipse cx="16.85" cy="17.32" rx=".26" ry=".24" fill="#000"/><ellipse cx="18.33" cy="17.32" rx=".26" ry=".24" fill="#000"/><ellipse cx="19.03" cy="18.8" rx=".22" ry=".2" fill="#000"/><ellipse cx="20.32" cy="18.8" rx=".22" ry=".2" fill="#000"/></g></svg><!--/QR2-->
<h1><span class="e">NAXE</span>那坊资管服务<span class="e2">(NDMFL)</span></h1>
<div class="sub">西南区域（成都、重庆）| 满足需求，解决问题，创造价值，发现机会</div>

<div class="card c1">
  <h2><span class="e">MINI</span>服务</h2><div class="ln"></div>
  <div class="pills">
    <div class="pill">基础价格：￥699（单次1套房产）</div>
    <div class="pill">读者群成员专享优惠价：￥399</div>
    <div class="pill">部分老读者专享特惠价：￥99</div>
  </div>
  <div class="warn">特别提示：不提供撮合双方见面、实地看房和谈价等<br>服务</div>
</div>
<div class="card c2">
  <h2><span class="e sx" style="transform:scaleX(.9);margin-right:-6.6px">PLUS</span>服务</h2><div class="ln"></div>
  <div class="pills">
    <div class="pill">买方佣金：最低￥3500最高不超成交总价<br>的0.5%</div>
    <div class="pill">读者群成员专享优惠：8折+￥399（限1套<br>房产）</div>
    <div class="pill">部分老读者专享特惠：66折+￥99（限1套<br>房产）</div>
  </div>
  <div class="warn">特别提示：需要买方自行梳理购房需求和筛选心意的<br>房源</div>
</div>
<div class="card c3">
  <h2><span class="e sx" style="transform:scaleX(.93);margin-right:-3.7px">PRO</span>服务</h2><div class="ln"></div>
  <div class="pills">
    <div class="pill">咨询服务：成交总价的1.25%收取咨询费</div>
    <div class="pill">读者群成员专享优惠：双8折（仅限1套房<br>产）</div>
    <div class="pill">部分老读者专享特惠：双66折（仅限1套房<br>产）</div>
  </div>
  <div class="warn">特别提示：成交后再支付咨询服务费，在未成交之前<br>买方无需付费</div>
</div>
<div class="hr"></div>
<div class="foot">NAXE提供资管服务，但不直接提供付费咨询；我们的出发点是帮助读者盘活资金，优化资产，整合资源，尽可能在房产交易过程中少走弯路乃至不犯错</div>
</body>
</html>
